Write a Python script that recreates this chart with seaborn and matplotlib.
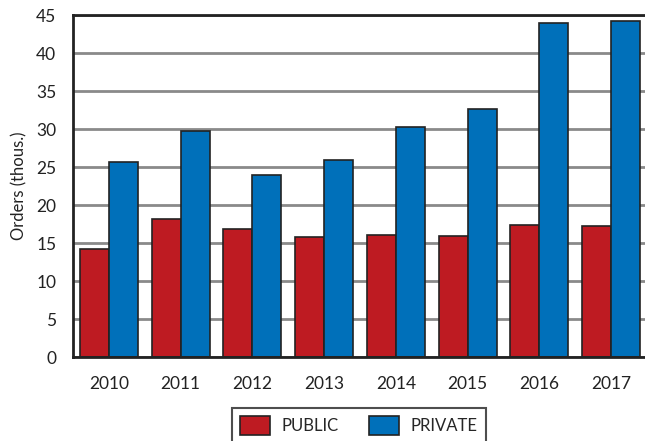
import matplotlib
matplotlib.use("Agg")
import matplotlib.pyplot as plt
import seaborn as sns
import pandas as pd
import numpy as np

# data
years = ["2010", "2011", "2012", "2013", "2014", "2015", "2016", "2017"]
public = [14.2, 18.1, 16.9, 15.8, 16.1, 15.9, 17.4, 17.2]
private = [25.7, 29.8, 23.9, 25.9, 30.2, 32.6, 43.9, 44.2]
series = ["PUBLIC", "PRIVATE"]
colors = ["#BE1B22", "#0070BA"]
y_ticks = [0, 5, 10, 15, 20, 25, 30, 35, 40, 45]

df = pd.DataFrame({
    "year": years * 2,
    "orders": public + private,
    "sector": [series[0]] * len(years) + [series[1]] * len(years),
})

sns.set_style("white")
plt.rcParams["font.family"] = ["Lato", "DejaVu Sans"]

fig = plt.figure(figsize=(6.45, 4.41), dpi=100)
W, H = 645, 441
ax = fig.add_axes([73 / W, (H - 357) / H, (647 - 73) / W, (357 - 15) / H])

sns.barplot(data=df, x="year", y="orders", hue="sector", palette=colors,
            width=0.81, edgecolor="#222222", linewidth=1.2, ax=ax,
            saturation=1, legend=True)

ax.set_ylim(0, 45)
ax.set_xlim(-0.5, 7.5)
ax.set_yticks(y_ticks)
ax.set_axisbelow(True)
ax.yaxis.grid(True, color="#8a8a8a", linewidth=2)

# group separators as ticks under the axis
ax.set_xticks(np.arange(len(years)))
ax.set_xticklabels(years)
ax.set_xticks(np.arange(len(years) + 1) - 0.5, minor=True)
ax.tick_params(axis="x", which="major", length=0, pad=14, labelsize=12.5, colors="#222222")
ax.tick_params(axis="x", which="minor", length=10, width=1.5, color="#666666", direction="out")
ax.tick_params(axis="y", length=8, width=2, color="#8a8a8a", pad=4, labelsize=12.5, labelcolor="#222222")

for side in ["left", "bottom", "top"]:
    ax.spines[side].set_color("#222222")
    ax.spines[side].set_linewidth(2)
ax.spines["right"].set_visible(False)

ax.set_xlabel("")
ax.set_ylabel("Orders (thous.)", fontsize=12, color="#222222", labelpad=6)

ax.legend(loc="upper center", bbox_to_anchor=(359 / W, 1 - 408 / H),
          bbox_transform=fig.transFigure, ncol=2, frameon=True, fancybox=False,
          edgecolor="#222222", fontsize=12, handlelength=1.8, handleheight=1.3,
          columnspacing=1.8, borderpad=0.5, handletextpad=0.7, borderaxespad=0)
leg = ax.get_legend()
leg.get_frame().set_linewidth(1.5)

fig.savefig("out.png", dpi=100)
